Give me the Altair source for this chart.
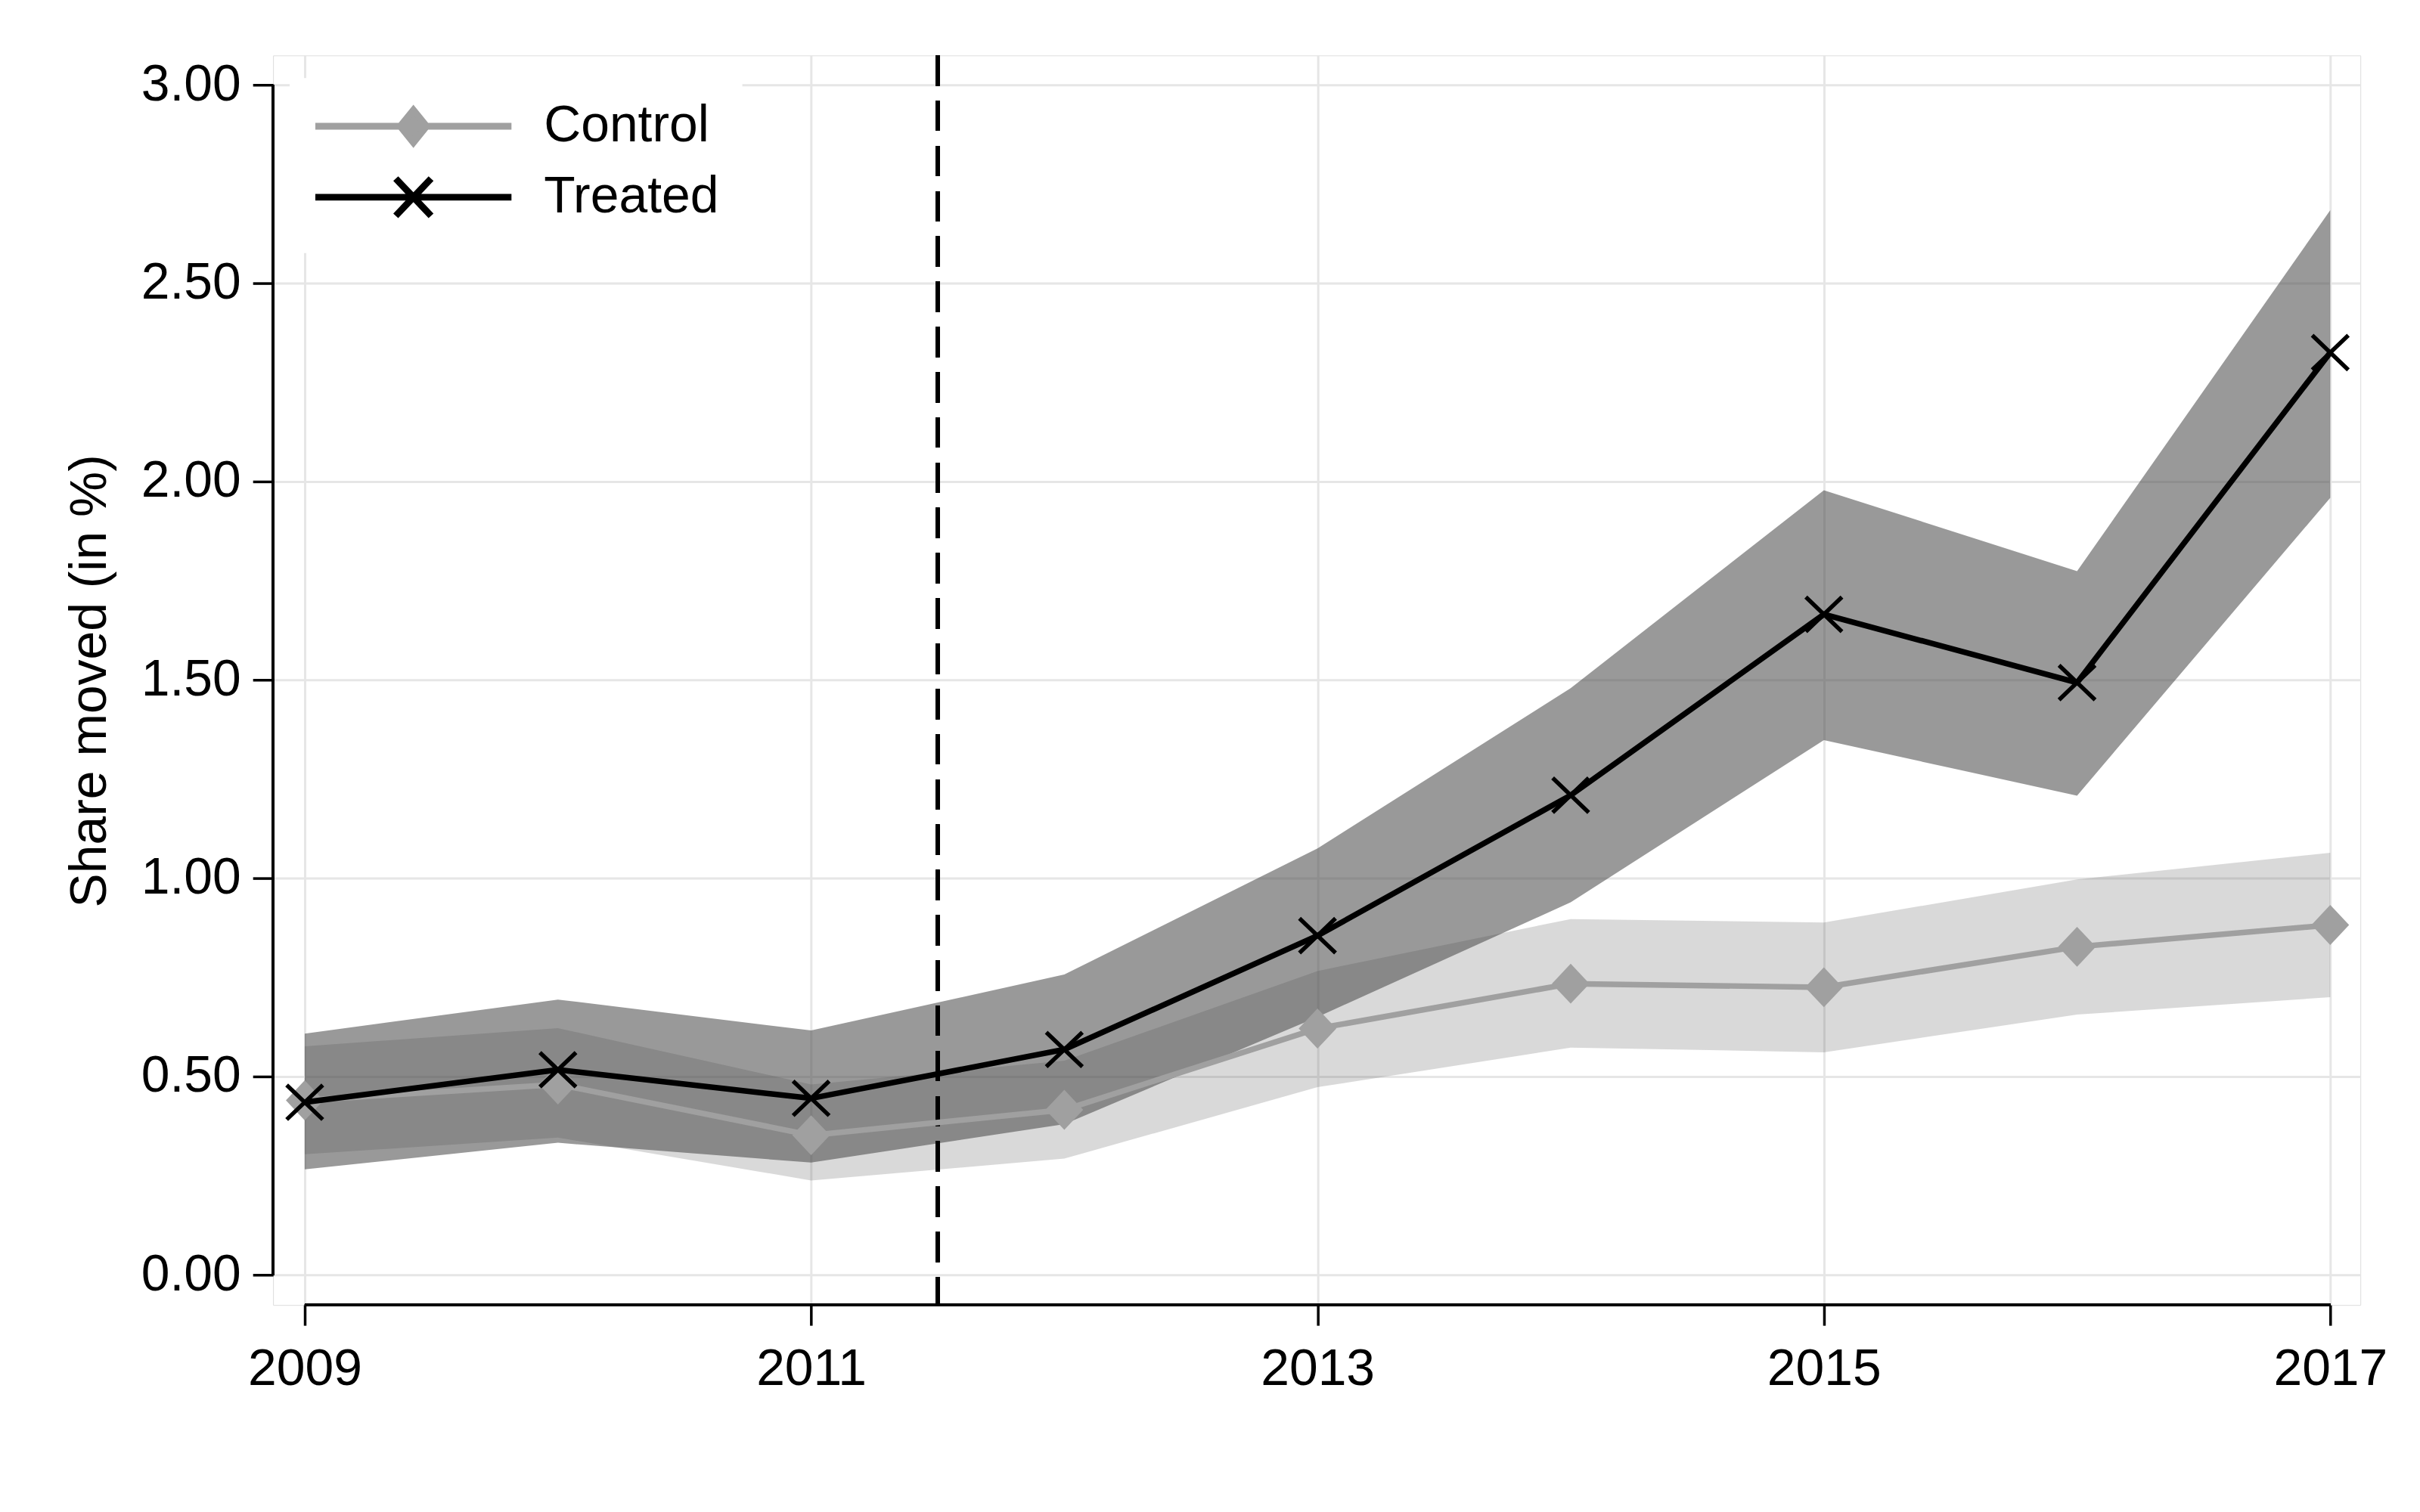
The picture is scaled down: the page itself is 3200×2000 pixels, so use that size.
import altair as alt
import pandas as pd

FONT = "Liberation Sans, Arial, Helvetica, sans-serif"

years = [2009, 2010, 2011, 2012, 2013, 2014, 2015, 2016, 2017]
groups = ["Control", "Treated"]

control = [0.44, 0.48, 0.352, 0.416, 0.621, 0.734, 0.725, 0.827, 0.882]
control_lo = [0.304, 0.346, 0.238, 0.293, 0.473, 0.573, 0.561, 0.656, 0.700]
control_hi = [0.576, 0.622, 0.480, 0.540, 0.766, 0.897, 0.888, 0.997, 1.064]

treated = [0.435, 0.517, 0.445, 0.568, 0.855, 1.209, 1.665, 1.493, 2.325]
treated_lo = [0.266, 0.333, 0.283, 0.380, 0.650, 0.939, 1.348, 1.208, 1.959]
treated_hi = [0.608, 0.694, 0.616, 0.757, 1.075, 1.479, 1.978, 1.774, 2.684]

x_ticks = [2009, 2011, 2013, 2015, 2017]
y_ticks = [0.0, 0.5, 1.0, 1.5, 2.0, 2.5, 3.0]
reform_year = 2011.5
y_title = "Share moved (in %)"

df = pd.DataFrame({
    "year": years * 2,
    "group": ["Control"] * len(years) + ["Treated"] * len(years),
    "est": control + treated,
    "lo": control_lo + treated_lo,
    "hi": control_hi + treated_hi,
})

W, H = 2767, 1657
CTRL_COLOR = "#a0a0a0"
BAND_COLOR = "#464646"

xscale = alt.Scale(domain=[2008.875, 2017.119], nice=False, zero=False)
yscale = alt.Scale(domain=[-0.076, 3.074], nice=False, zero=False)

xaxis = alt.Axis(values=x_ticks, format="d", title=None, domain=False,
                 grid=True, gridColor="#e6e6e6", gridWidth=3,
                 ticks=True, tickSize=27, tickWidth=3.5, tickColor="black",
                 labelFontSize=68, labelFont=FONT, labelColor="black",
                 labelPadding=25, labelFlush=False, labelOverlap=False)
yaxis = alt.Axis(values=y_ticks, format=".2f", title=y_title, domain=False,
                 grid=True, gridColor="#e6e6e6", gridWidth=3,
                 ticks=True, tickSize=27, tickWidth=3.5, tickColor="black",
                 labelFontSize=68, labelFont=FONT, labelColor="black",
                 labelPadding=16, labelFlush=False, labelOverlap=False,
                 titleFont=FONT, titleFontSize=68, titleFontWeight="normal",
                 titleColor="black", titleAngle=270, titleBaseline="alphabetic",
                 titleAlign="center", titleX=-222, titleY=829)


def X():
    return alt.X("year:Q", scale=xscale, axis=xaxis)


def Y(field):
    return alt.Y(f"{field}:Q", scale=yscale, axis=yaxis, title=y_title)


base = alt.Chart(df)
is_ctrl = alt.datum.group == "Control"
is_trt = alt.datum.group == "Treated"

ctrl_band = base.transform_filter(is_ctrl).mark_area(
    color=BAND_COLOR, opacity=0.206).encode(x=X(), y=Y("lo"), y2="hi:Q")
trt_band = base.transform_filter(is_trt).mark_area(
    color=BAND_COLOR, opacity=0.553).encode(x=X(), y=Y("lo"), y2="hi:Q")

reform = alt.Chart(df).mark_rule(
    color="black", strokeWidth=5, strokeDash=[40, 20]).encode(
    x=alt.datum(reform_year), y=alt.value(0), y2=alt.value(H))

ctrl_line = base.transform_filter(is_ctrl).mark_line(
    color=CTRL_COLOR, strokeWidth=7.5).encode(x=X(), y=Y("est"))
DIAMOND = "M0,-1.02L0.96,0L0,1.02L-0.96,0Z"
ctrl_pts = base.transform_filter(is_ctrl).mark_point(
    shape=DIAMOND, filled=True, color=CTRL_COLOR, size=2704, opacity=1,
    strokeWidth=0).encode(x=X(), y=Y("est"))

trt_line = base.transform_filter(is_trt).mark_line(
    color="black", strokeWidth=7.5).encode(x=X(), y=Y("est"))
XSHAPE = "M-0.92,-0.88L0.92,0.88M-0.92,0.88L0.92,-0.88"
trt_pts = base.transform_filter(is_trt).mark_point(
    shape=XSHAPE, filled=False, color="black", size=2704, opacity=1,
    strokeWidth=5.5).encode(x=X(), y=Y("est"))

yaxis_line = alt.Chart(df).mark_rule(color="black", strokeWidth=3.5).encode(
    x=alt.value(0), y=alt.datum(y_ticks[0]), y2=alt.datum(y_ticks[-1]))
xaxis_line = alt.Chart(df).mark_rule(color="black", strokeWidth=3.5).encode(
    x=alt.datum(x_ticks[0]), x2=alt.datum(x_ticks[-1]), y=alt.value(H))

LEG_CTRL = "M-5,0L5,0M0,-0.83L0.67,0L0,0.83L-0.67,0Z"
LEG_TRT = "M-5,0L5,0M-0.9,-0.95L0.9,0.95M-0.9,0.95L0.9,-0.95"
leg = alt.Legend(title=None, orient="none", legendX=22, legendY=30,
                 padding=30, fillColor="white", strokeColor="white",
                 symbolSize=2704, symbolStrokeWidth=9, symbolOffset=100,
                 symbolOpacity=1, labelOffset=139, labelFontSize=68,
                 labelFont=FONT, labelColor="black", labelLimit=1000,
                 rowPadding=11)
color_range = [CTRL_COLOR, "black"]
legend_layer = base.transform_filter("false").mark_point(
    filled=True, size=2704, strokeWidth=9, opacity=1).encode(
    x=X(), y=Y("est"),
    shape=alt.Shape("group:N", scale=alt.Scale(domain=groups, range=[LEG_CTRL, LEG_TRT]), legend=leg),
    fill=alt.Fill("group:N", scale=alt.Scale(domain=groups, range=color_range), legend=leg),
    stroke=alt.Stroke("group:N", scale=alt.Scale(domain=groups, range=color_range), legend=leg),
)

chart = alt.layer(
    ctrl_band, trt_band, reform, ctrl_line, ctrl_pts, trt_line, trt_pts,
    yaxis_line, xaxis_line, legend_layer,
).properties(
    width=W, height=H,
    padding={"left": 354, "top": 63, "right": 71, "bottom": 272},
    autosize=alt.AutoSizeParams(type="none"),
    background="white",
).configure_view(stroke=None).configure(font=FONT)

chart.save("out.html", embed_options={"renderer": "svg", "actions": False})
